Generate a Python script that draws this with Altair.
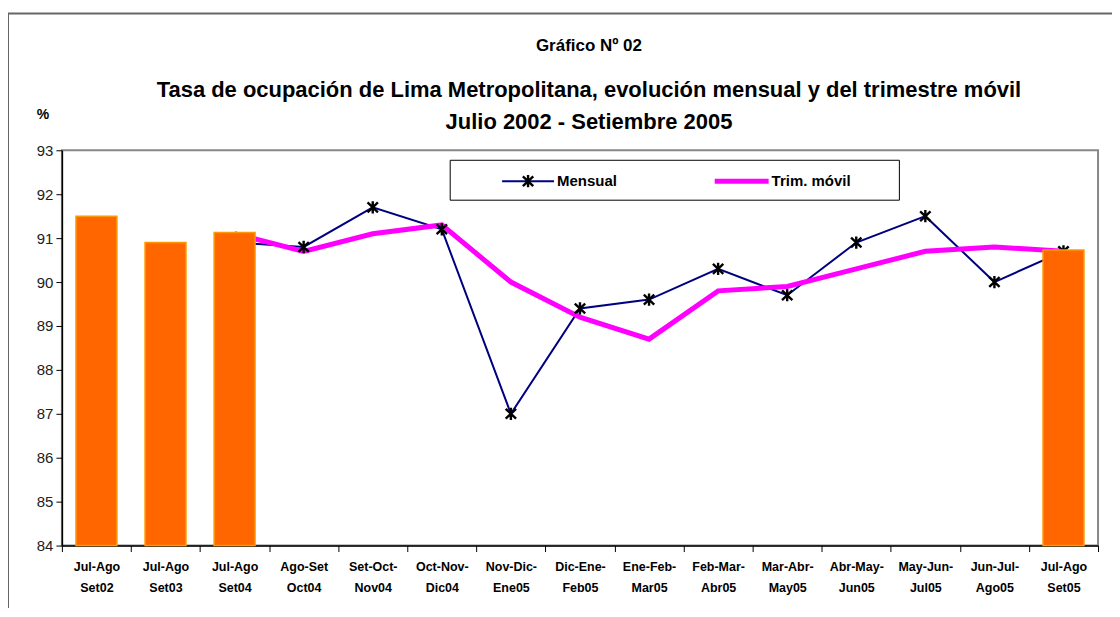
import altair as alt
import pandas as pd

# ---- data ----
categories = ["Jul-Ago|Set02", "Jul-Ago|Set03", "Jul-Ago|Set04", "Ago-Set|Oct04",
              "Set-Oct-|Nov04", "Oct-Nov-|Dic04", "Nov-Dic-|Ene05", "Dic-Ene-|Feb05",
              "Ene-Feb-|Mar05", "Feb-Mar-|Abr05", "Mar-Abr-|May05", "Abr-May-|Jun05",
              "May-Jun-|Jul05", "Jun-Jul-|Ago05", "Jul-Ago|Set05"]
bar_values = [91.5, 90.9, 91.13, None, None, None, None, None, None, None, None, None, None, None, 90.73]
mensual = [None, None, 90.9, 90.8, 91.7, 91.2, 87.0, 89.4, 89.6, 90.3, 89.7, 90.9, 91.5, 90.0, 90.7]
trim_movil = [None, None, 91.1, 90.7, 91.1, 91.3, 90.0, 89.2, 88.7, 89.8, 89.9, 90.3, 90.7, 90.8, 90.7]

y_ticks = list(range(84, 94))
heading_small = ["Gráfico Nº 02"]
heading_main = ["Tasa de ocupación de Lima Metropolitana, evolución mensual y del trimestre móvil",
                "Julio 2002 - Setiembre 2005"]
unit_label = ["%"]
legend_labels = ["Mensual", "Trim. móvil"]

FONT = "Liberation Sans"
W, H = 1038, 396

bars = pd.DataFrame({"cat": categories, "val": bar_values}).dropna()
lm = pd.DataFrame({"cat": categories, "val": mensual}).dropna()
lt = pd.DataFrame({"cat": categories, "val": trim_movil}).dropna()
one = pd.DataFrame({"k": [0]})

xscale = alt.Scale(domain=categories, paddingInner=0, paddingOuter=0)
yscale = alt.Scale(domain=[84, 93], zero=False, nice=False)

xenc = alt.X("cat:N", scale=xscale, sort=categories,
             axis=alt.Axis(title=None, tickBand="extent", labelAngle=0,
                           labelExpr="split(datum.label, '|')",
                           labelFont=FONT, labelFontWeight="bold", labelFontSize=12.5,
                           labelColor="#000", labelPadding=9, labelLineHeight=21,
                           tickSize=6, tickColor="#000", domainColor="#000",
                           domainWidth=1.5, grid=False))
yenc = alt.Y("val:Q", scale=yscale,
             axis=alt.Axis(title=None, values=y_ticks, labelFont=FONT, labelFontSize=15,
                           labelColor="#222", tickSize=6, tickColor="#000",
                           domainColor="#000", domainWidth=1.5, grid=False, labelPadding=3))

line_m = alt.Chart(lm).mark_line(color="#000080", strokeWidth=2).encode(x=xenc, y=yenc)
line_t = alt.Chart(lt).mark_line(color="#FF00FF", strokeWidth=5).encode(x=xenc, y=yenc)
star = "M0,-1L0,1M-0.85,-0.8L0.85,0.8M-0.85,0.8L0.85,-0.8"
pts_m = alt.Chart(lm).mark_point(shape=star, filled=False, stroke="#000", strokeWidth=2.4,
                                 size=150, opacity=1).encode(x=xenc, y=yenc)
bar = alt.Chart(bars).mark_bar(size=41, color="#FF6600", stroke="#FF9900",
                               strokeWidth=1.5).encode(x=xenc, y=yenc, y2=alt.datum(84))

# decorations: headings, unit, frame, legend
def txt(s, x, y, size, weight="bold", align="center"):
    return alt.Chart(one).mark_text(text=s, font=FONT, fontSize=size, fontWeight=weight,
                                    align=align, baseline="middle", color="#000").encode(
        x=alt.value(x), y=alt.value(y))

h1 = txt(heading_small[0], 528, -104, 17)
h2 = txt(heading_main[0], 528, -60, 22)
h3 = txt(heading_main[1], 528, -28, 22)
pc = txt(unit_label[0], -19, -35, 14)

frame_top = alt.Chart(one).mark_rule(color="#666", strokeWidth=2).encode(
    x=alt.value(-54), x2=alt.value(W + 30), y=alt.value(-137))
frame_left = alt.Chart(one).mark_rule(color="#666", strokeWidth=2).encode(
    x=alt.value(-54), y=alt.value(-137), y2=alt.value(H + 70))

leg_box = alt.Chart(one).mark_rect(fill="white", stroke="#000", strokeWidth=1).encode(
    x=alt.value(389), x2=alt.value(839), y=alt.value(10), y2=alt.value(50))
leg_m_line = alt.Chart(one).mark_rule(color="#000080", strokeWidth=2).encode(
    x=alt.value(441), x2=alt.value(493), y=alt.value(31))
leg_m_pt = alt.Chart(one).mark_point(shape=star, filled=False, stroke="#000", strokeWidth=2.4,
                                     size=150, opacity=1).encode(x=alt.value(467), y=alt.value(31))
leg_t_line = alt.Chart(one).mark_rule(color="#FF00FF", strokeWidth=5).encode(
    x=alt.value(654), x2=alt.value(708), y=alt.value(31))
leg_m_txt = txt(legend_labels[0], 496, 31, 15, align="left")
leg_t_txt = txt(legend_labels[1], 711, 31, 15, align="left")

chart = alt.layer(
    line_m, line_t, pts_m, bar,
    leg_box, leg_m_line, leg_m_pt, leg_t_line, leg_m_txt, leg_t_txt,
    h1, h2, h3, pc, frame_top, frame_left
).properties(
    width=W, height=H,
    autosize=alt.AutoSizeParams(type="none"),
    padding={"left": 54, "top": 142, "right": 14, "bottom": 62},
    background="white",
).configure_view(stroke="#888", strokeWidth=2)

chart.save("out.html", embed_options={"renderer": "svg", "actions": False})
